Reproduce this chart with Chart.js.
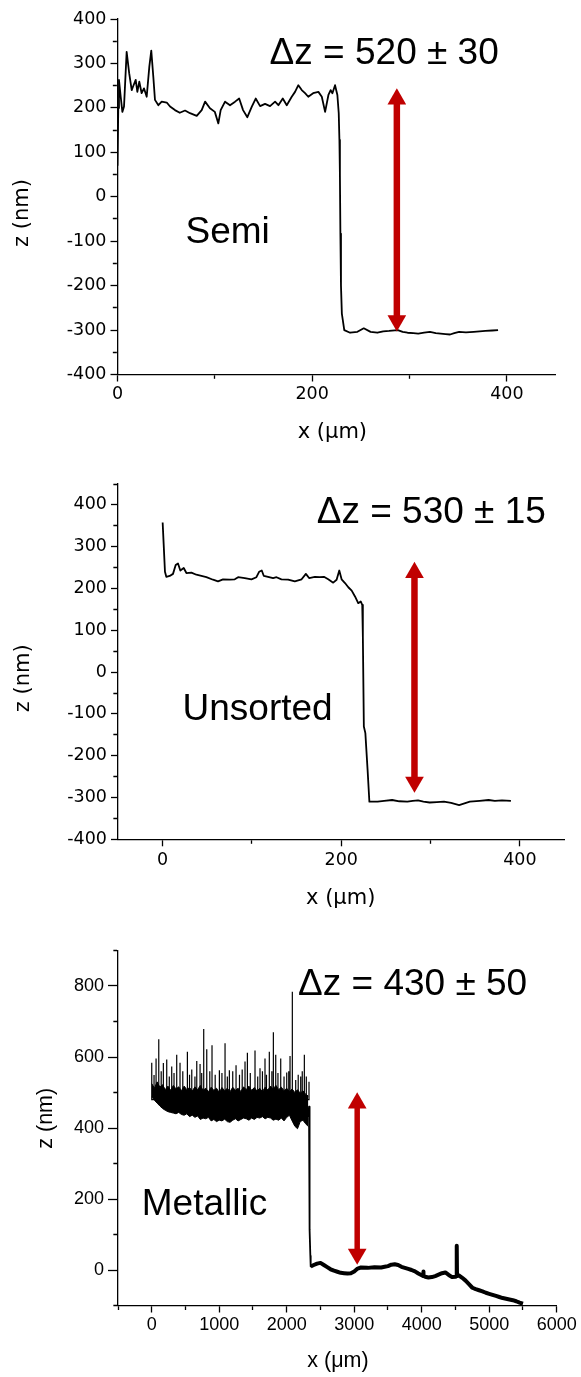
<!DOCTYPE html>
<html><head><meta charset="utf-8">
<script src="https://cdn.jsdelivr.net/npm/chart.js@4.4.1/dist/chart.umd.min.js"></script>
<style>
html,body{margin:0;padding:0;background:#fff;width:581px;height:1377px;overflow:hidden}
canvas{position:absolute;left:0}
</style></head><body>
<canvas id="c1" width="581" height="460" style="top:0"></canvas>
<canvas id="c2" width="581" height="470" style="top:460px"></canvas>
<canvas id="c3" width="581" height="447" style="top:930px"></canvas>
<script>
// ---------- Panel 1: Semi ----------
const semiX = [0,0.8,1.5,3.3,5,6.7,9.4,12,14.6,16,18.7,20.4,22.4,24.8,27.2,30,32.7,34.7,36.8,38.5,42,45.4,50.6,54,59,64,69.4,74.5,81.4,86.5,90,95,100,103.6,106,110.5,115.6,120.8,125,129,133.4,138,142,146.5,151.6,156.7,161.9,165.3,169.8,173.9,179,182.4,185.8,189.3,192.7,196,201,206.4,209.9,213.3,216.7,219,220.8,223.5,225.9,227.3,228,228.5,229,229.6,230.5,233,239,246.5,253,260,267,273,279,288,293,298,304,309,315,321,327,332,337,341.7,346,351,358,366,372,378,385,391];
const semiZ = [70,200,263,225,191,203,326,278,240,248,263,236,259,233,244,225,293,329,270,218,206,214,212,203,195,189,194,188,182,195,214,199,191,165,195,214,206,214,221,195,179,203,221,204,209,204,214,206,221,206,225,236,251,240,233,225,233,236,225,191,229,240,233,251,229,188,128,50,-83,-200,-263,-300,-306,-304,-296,-304,-306,-303,-302,-300,-304,-306,-307,-308,-306,-304,-307,-308,-309,-310,-307,-304,-305,-304,-303,-302,-301,-300];
const semiArrowX = 287;
const semiArrowZ = [220, -279];
const semiXTicks = [0,100,200,300,400];
const semiXLabeled = [0,200,400];
const semiZTicks = [-400,-350,-300,-250,-200,-150,-100,-50,0,50,100,150,200,250,300,350,400];
const semiZLabeled = [-400,-300,-200,-100,0,100,200,300,400];

// ---------- Panel 2: Unsorted ----------
const unsortedX = [0,1.1,2.6,4.1,7.9,11.6,14.6,17.2,19.8,23.6,26.6,32.2,37.8,43.4,49,56.4,62,67.6,75.2,80.8,84.5,92,99.5,105,108,111,113.3,118,123.7,127.5,133,140.6,148,155.6,160.4,164,170.5,176,180.6,185.4,191,194.8,197.8,200.4,204.2,207.9,211.7,215.4,219,221.8,223.5,224.2,225.3,227,229.5,231.5,240.7,248,257,265,274,280,286,292,299,307,315,323,332,338,344,355,365,372,380,390];
const unsortedZ = [358,308,240,228,230,235,256,260,243,249,237,238,233,230,227,221,217,222,221,222,227,225,222,227,240,243,230,228,225,227,222,221,217,222,235,225,228,227,228,222,214,221,243,222,213,203,195,181,165,169,161,85,-130,-146,-234,-310,-310,-308,-306,-309,-310,-308,-307,-310,-312,-311,-310,-313,-318,-314,-310,-308,-306,-308,-307,-308];
const unsortedArrowX = 282;
const unsortedArrowZ = [238, -263];
const unsortedXTicks = [0,100,200,300,400];
const unsortedXLabeled = [0,200,400];
const unsortedZTicks = [-400,-350,-300,-250,-200,-150,-100,-50,0,50,100,150,200,250,300,350,400,450];
const unsortedZLabeled = [-400,-300,-200,-100,0,100,200,300,400];

// ---------- Panel 3: Metallic ----------
const metallicBandX = [0,40,80,120,160,200,240,280,320,360,400,440,480,520,560,600,640,680,720,760,800,840,880,920,960,1000,1040,1080,1120,1160,1200,1240,1280,1320,1360,1400,1440,1480,1520,1560,1600,1640,1680,1720,1760,1800,1840,1880,1920,1960,2000,2040,2080,2120,2160,2200,2240,2280,2320];
const metallicBandUpper = [525,512,530,515,522,508,518,506,520,510,516,505,518,508,514,504,516,508,520,506,512,502,515,506,512,500,514,505,512,502,515,506,512,503,516,508,518,506,514,504,512,502,515,507,518,510,520,508,515,505,512,502,510,500,508,498,505,495,490];
const metallicBandLower = [488,478,470,462,455,450,446,444,442,440,444,438,436,440,432,436,430,434,424,428,426,430,420,424,418,422,420,425,418,416,422,426,420,424,428,426,422,428,424,430,428,432,426,430,428,422,425,422,428,420,430,436,420,405,398,418,422,412,404];
const metallicSpikeBase = 480;
const metallicSpikeX = [0,34,64,104,140,172,222,260,296,330,370,419,460,528,560,593,640,667,716,740,770,815,860,893,940,1002,1040,1086,1120,1150,1200,1249,1300,1340,1382,1417,1460,1530,1570,1604,1640,1678,1700,1742,1780,1802,1837,1870,1911,1960,2000,2030,2049,2083,2133,2170,2207,2230,2261,2290,2330];
const metallicSpikeTop = [584,549,596,650,560,583,593,545,573,555,606,584,560,615,550,565,545,589,580,555,679,622,560,633,550,563,555,639,545,563,560,577,550,565,587,612,555,618,545,568,560,596,550,615,560,670,606,555,596,545,556,560,603,784,535,550,545,560,606,545,530];
const metallicStepX = [2320,2330,2334,2337,2340,2344,2350,2355];
const metallicStepZ = [430,460,400,300,200,113,40,10];
const metallicLowX = [2355,2400,2450,2500,2550,2600,2650,2700,2750,2800,2850,2900,2950,3000,3050,3100,3200,3300,3400,3450,3500,3550,3600,3650,3700,3750,3800,3850,3900,3950,4000,4020,4024,4028,4050,4100,4150,4200,4250,4300,4350,4400,4450,4500,4515,4519,4523,4550,4600,4650,4700,4750,4800,4850,4900,4950,5000,5050,5100,5150,5200,5250,5300,5350,5400,5450,5500];
const metallicLowZ = [10,14,18,20,14,8,2,-2,-5,-8,-9,-10,-9,-4,4,7,6,8,7,9,11,15,16,14,9,6,3,0,-4,-10,-15,-17,-4,-17,-19,-21,-20,-17,-13,-9,-7,-14,-20,-19,-17,68,-17,-15,-22,-30,-40,-50,-54,-57,-60,-64,-67,-70,-73,-76,-79,-81,-83,-85,-88,-92,-95];
const metallicArrowX = 3044;
const metallicArrowZ = [470, 45];
const metallicXTicks = [-500,0,500,1000,1500,2000,2500,3000,3500,4000,4500,5000,5500,6000];
const metallicXLabeled = [0,1000,2000,3000,4000,5000,6000];
const metallicZTicks = [-100,0,100,200,300,400,500,600,700,800,900];
const metallicZLabeled = [0,200,400,600,800];

// ---------- helpers ----------
const pts = (xs, ys) => xs.map((x, i) => ({x: x, y: ys[i]}));

function linAxis(a) {
  const left = a.pos === 'left';
  const isMinor = c => c.tick && a.labeled.indexOf(c.tick.value) < 0;
  return {
    type: 'linear', position: a.pos, min: a.min, max: a.max,
    afterBuildTicks: s => { s.ticks = a.ticks.map(v => ({value: v})); },
    afterFit: s => { if (left) s.width = a.size; else s.height = a.size; },
    border: {display: true, color: '#000', width: 1.3},
    grid: {
      display: true, drawOnChartArea: false, drawTicks: true,
      tickLength: a.tl, tickWidth: 1.3, tickColor: '#000',
      tickBorderDash: c => isMinor(c) ? (left ? [0, a.tl - 0.65 - a.ml, a.ml, 80] : [a.ml, 80]) : [],
      tickBorderDashOffset: 0
    },
    ticks: {
      autoSkip: false, maxRotation: 0, minRotation: 0, padding: a.pad, color: '#000',
      font: a.font,
      callback: v => a.labeled.indexOf(v) >= 0 ? String(v) : ''
    },
    title: {display: false}
  };
}

function lineDs(data, width, extra) {
  return Object.assign({
    type: 'line', data: data, borderColor: '#000', borderWidth: width,
    pointRadius: 0, pointHoverRadius: 0, tension: 0, fill: false,
    borderJoinStyle: 'round', borderCapStyle: 'butt'
  }, extra || {});
}

function arrowDs(x, zs, width) {
  return {
    type: 'line', data: zs.map(z => ({x: x, y: z})),
    borderColor: '#c00000', borderWidth: width, borderCapStyle: 'butt',
    pointStyle: 'triangle', pointRadius: 10.8, pointHoverRadius: 10.8,
    pointRotation: [0, 180], pointBackgroundColor: '#c00000',
    pointBorderColor: '#c00000', pointBorderWidth: 0, fill: false, tension: 0
  };
}

function textPlugin(items) {
  return {
    id: 'annotText',
    afterDraw(chart) {
      const ctx = chart.ctx;
      items.forEach(t => {
        ctx.save();
        ctx.font = t.font;
        ctx.fillStyle = '#000';
        ctx.textAlign = t.align || 'left';
        ctx.textBaseline = t.base || 'alphabetic';
        ctx.translate(t.x, t.y);
        if (t.rot) ctx.rotate(t.rot);
        ctx.fillText(t.text, 0, 0);
        ctx.restore();
      });
    }
  };
}

function baseOptions(pad, xAxis, yAxis) {
  return {
    responsive: false, animation: false, events: [],
    layout: {padding: pad},
    plugins: {legend: {display: false}, tooltip: {enabled: false}},
    scales: {x: xAxis, y: yAxis}
  };
}

const verdana = {family: '"DejaVu Sans"', size: 17.5};
const arial = {family: '"Liberation Sans"', size: 18};
const bigFont = '37px "Liberation Sans"';

// ---------- Chart 1 ----------
new Chart(document.getElementById('c1'), {
  type: 'line',
  data: {datasets: [
    arrowDs(semiArrowX, semiArrowZ, 6.5),
    lineDs(pts(semiX, semiZ), 1.8)
  ]},
  options: baseOptions({top: 19, right: 25.5, left: 0, bottom: 0},
    linAxis({pos: 'bottom', min: 0, max: 450, ticks: semiXTicks, labeled: semiXLabeled, size: 85.5, tl: 7, ml: 3.5, pad: 2, font: verdana}),
    linAxis({pos: 'left', min: -400, max: 400, ticks: semiZTicks, labeled: semiZLabeled, size: 117.5, tl: 7, ml: 4, pad: 4, font: verdana})),
  plugins: [textPlugin([
    {text: 'Δz = 520 ± 30', x: 269.6, y: 64, font: bigFont},
    {text: 'Semi', x: 185.5, y: 242.7, font: bigFont},
    {text: 'z (nm)', x: 22.5, y: 213, rot: -Math.PI / 2, align: 'center', base: 'middle', font: '21px "DejaVu Sans"'},
    {text: 'x (μm)', x: 332.4, y: 433, align: 'center', base: 'middle', font: '21px "DejaVu Sans"'}
  ])]
});

// ---------- Chart 2 ----------
new Chart(document.getElementById('c2'), {
  type: 'line',
  data: {datasets: [
    arrowDs(unsortedArrowX, unsortedArrowZ, 6.5),
    lineDs(pts(unsortedX, unsortedZ), 1.8)
  ]},
  options: baseOptions({top: 24, right: 16.5, left: 0, bottom: 0},
    linAxis({pos: 'bottom', min: -50, max: 450, ticks: unsortedXTicks, labeled: unsortedXLabeled, size: 90.7, tl: 7, ml: 3.5, pad: 3.5, font: verdana}),
    linAxis({pos: 'left', min: -400, max: 450, ticks: unsortedZTicks, labeled: unsortedZLabeled, size: 118, tl: 7, ml: 4, pad: 4, font: verdana})),
  plugins: [textPlugin([
    {text: 'Δz = 530 ± 15', x: 316.7, y: 63.3, font: bigFont},
    {text: 'Unsorted', x: 182.5, y: 260, font: bigFont},
    {text: 'z (nm)', x: 23.5, y: 218.3, rot: -Math.PI / 2, align: 'center', base: 'middle', font: '21px "DejaVu Sans"'},
    {text: 'x (μm)', x: 340.7, y: 439, align: 'center', base: 'middle', font: '21px "DejaVu Sans"'}
  ])]
});

// ---------- Chart 3 ----------
const spikePts = [];
metallicSpikeX.forEach((x, i) => {
  spikePts.push({x: x, y: metallicSpikeBase}, {x: x, y: metallicSpikeTop[i]}, {x: x, y: metallicSpikeBase});
});
new Chart(document.getElementById('c3'), {
  type: 'line',
  data: {datasets: [
    arrowDs(metallicArrowX, metallicArrowZ, 5.5),
    lineDs(pts(metallicBandX, metallicBandUpper), 1),
    lineDs(pts(metallicBandX, metallicBandLower), 1, {fill: '-1', backgroundColor: '#000'}),
    lineDs(spikePts, 1.2, {borderJoinStyle: 'miter'}),
    lineDs(pts(metallicStepX, metallicStepZ), 1.8),
    lineDs(pts(metallicLowX, metallicLowZ), 4)
  ]},
  options: baseOptions({top: 20.5, right: 24.3, left: 0, bottom: 0},
    linAxis({pos: 'bottom', min: -500, max: 6000, ticks: metallicXTicks, labeled: metallicXLabeled, size: 71.5, tl: 7, ml: 3.7, pad: 2, font: arial}),
    linAxis({pos: 'left', min: -100, max: 900, ticks: metallicZTicks, labeled: metallicZLabeled, size: 118, tl: 10, ml: 4, pad: 4, font: arial})),
  plugins: [textPlugin([
    {text: 'Δz = 430 ± 50', x: 298, y: 65, font: bigFont},
    {text: 'Metallic', x: 141.8, y: 285, font: bigFont},
    {text: 'z (nm)', x: 46, y: 188.3, rot: -Math.PI / 2, align: 'center', base: 'middle', font: '21.5px "Liberation Sans"'},
    {text: 'x (μm)', x: 338, y: 430.7, align: 'center', base: 'middle', font: '21.5px "Liberation Sans"'}
  ])]
});
</script>
</body></html>
